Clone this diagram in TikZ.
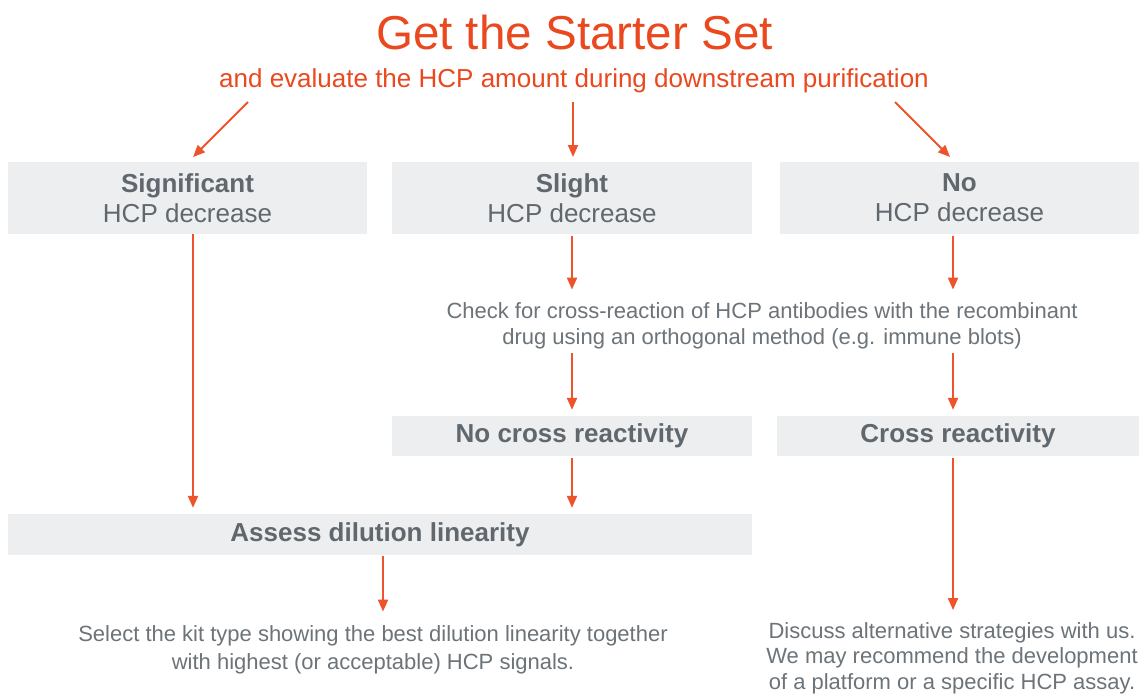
\documentclass[tikz,border=0pt]{standalone}
\usepackage{fontspec}
\setmainfont{Liberation Sans}
\usetikzlibrary{arrows.meta}
\definecolor{org}{RGB}{234,72,30}
\definecolor{arrc}{RGB}{238,84,44}
\definecolor{boxc}{RGB}{237,238,240}
\definecolor{txt}{RGB}{108,116,121}
\definecolor{txtb}{RGB}{96,104,110}
\tikzset{
  arr/.style={draw=arrc, line width=2pt, -{Triangle[width=10pt,length=12pt]}},
  box/.style={fill=boxc, inner sep=0pt, align=center, text=txtb, font=\fontsize{26}{30}\selectfont},
  note/.style={inner sep=0pt, align=center, text=txt, font=\fontsize{22}{26}\selectfont},
}
\begin{document}
\begin{tikzpicture}[x=1pt,y=-1pt]
\useasboundingbox (0,0) rectangle (1139,693);
\fill[white] (0,0) rectangle (1139,693);
% title
\node[font=\fontsize{47.6}{50}\selectfont, text=org, anchor=base, inner sep=0pt] (title) at (574.5,49) {Get the Starter Set};
\node[font=\fontsize{26}{28}\selectfont, text=org, anchor=base, inner sep=0pt] (sub) at (574,87) {and evaluate the HCP amount during downstream purification};
% row 1 boxes
\node[box, minimum width=359pt, minimum height=72pt] (sig) at (187.5,198) {\textbf{Significant}\\HCP decrease};
\node[box, minimum width=360pt, minimum height=72pt] (sli) at (572,198) {\textbf{Slight}\\HCP decrease};
\node[box, minimum width=359pt, minimum height=72pt] (no) at (959.5,198) {\textbf{No}\\HCP decrease};
% check
\node[note] (check) at (762,326) {Check for cross-reaction of HCP antibodies with the recombinant\\drug using an orthogonal method (e.g. immune blots)};
% row 2 boxes
\node[box, minimum width=360pt, minimum height=40pt] (ncr) at (572,436) {\textbf{No cross reactivity}};
\node[box, minimum width=362pt, minimum height=40pt] (cr) at (958,436) {\textbf{Cross reactivity}};
% assess
\node[box, minimum width=744pt, minimum height=41pt] (ass) at (380,534.5) {\textbf{Assess dilution linearity}};
% results
\node[note, font=\fontsize{22}{28}\selectfont] (sel) at (373,650) {Select the kit type showing the best dilution linearity together\\with highest (or acceptable) HCP signals.};
\node[note, font=\fontsize{22}{25.5}\selectfont] (dis) at (952,658) {Discuss alternative strategies with us.\\We may recommend the development\\of a platform or a specific HCP assay.};
% coordinates
\coordinate (s1) at (248,102); \coordinate (e1) at (193,157);
\coordinate (s2) at (573,102); \coordinate (e2) at (573,157);
\coordinate (s3) at (895,102); \coordinate (e3) at (950,157);
\coordinate (xa) at (193,0);
\coordinate (xb) at (572,0);
\coordinate (xc) at (953,0);
\coordinate (xd) at (383,0);
% arrows
\draw[arr] (s1) -- (e1);
\draw[arr] (s2) -- (e2);
\draw[arr] (s3) -- (e3);
\draw[arr, shorten >=6pt] (sig.south -| xa) -- (ass.north -| xa);
\draw[arr, shorten <=2pt, shorten >=13pt] (sli.south -| xb) -- (check.north -| xb);
\draw[arr, shorten <=2pt, shorten >=13pt] (no.south -| xc) -- (check.north -| xc);
\draw[arr, shorten <=4pt, shorten >=6pt] (check.south -| xb) -- (ncr.north -| xb);
\draw[arr, shorten <=4pt, shorten >=6pt] (check.south -| xc) -- (cr.north -| xc);
\draw[arr, shorten <=2pt, shorten >=6pt] (ncr.south -| xb) -- (ass.north -| xb);
\draw[arr, shorten <=1pt, shorten >=14pt] (ass.south -| xd) -- (sel.north -| xd);
\draw[arr, shorten <=2pt, shorten >=12pt] (cr.south -| xc) -- (dis.north -| xc);
\end{tikzpicture}
\end{document}
